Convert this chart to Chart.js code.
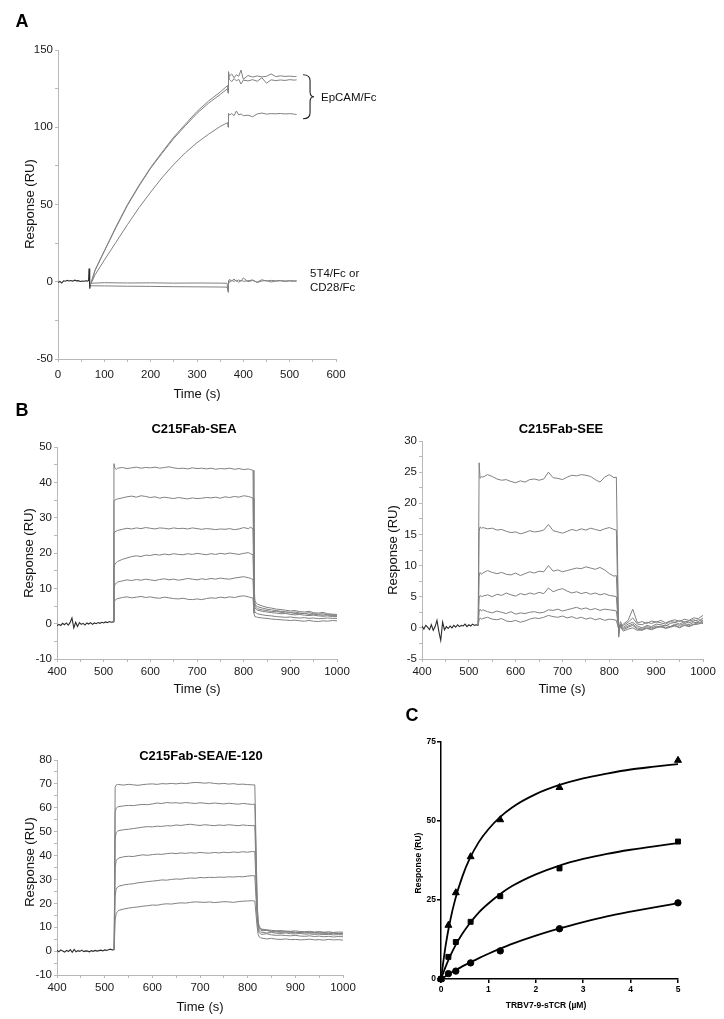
<!DOCTYPE html>
<html lang="en">
<head>
<meta charset="UTF-8">
<title>SPR sensorgrams and binding curves</title>
<script src="https://cdn.jsdelivr.net/npm/chart.js"></script>
<style>
  body { margin: 0; background: #fff; font-family: 'Liberation Sans', Arial, sans-serif; }
  #page { position: relative; width: 724px; height: 1019px; overflow: hidden; background: #fff; }
  canvas { position: absolute; }
  .t { position: absolute; white-space: nowrap; line-height: 1; color: #111; transform: translate(-50%, -50%); }
  .l { transform: translate(0, -50%); }
  .v { transform: translate(-50%, -50%) rotate(-90deg); }
  .letter { font-weight: bold; font-size: 18px; color: #000; }
  .title { font-weight: bold; font-size: 13px; color: #000; }
  .ax { font-size: 13px; }
  .axc { font-size: 8.5px; font-weight: bold; color: #000; }
  .note { font-size: 11.5px; }
</style>
</head>
<body>
<div id="page">
  <canvas id="chartA"></canvas>
  <canvas id="chartSEA"></canvas>
  <canvas id="chartSEE"></canvas>
  <canvas id="chartMix"></canvas>
  <canvas id="chartC"></canvas>

  <div class="t letter" style="left:22px;top:21px">A</div>
  <div class="t letter" style="left:22px;top:410px">B</div>
  <div class="t letter" style="left:412px;top:715px">C</div>

  <div class="t title" style="left:194px;top:428px">C215Fab-SEA</div>
  <div class="t title" style="left:561px;top:428px">C215Fab-SEE</div>
  <div class="t title" style="left:201px;top:755px">C215Fab-SEA/E-120</div>

  <div class="t v ax" style="left:29px;top:204px">Response (RU)</div>
  <div class="t v ax" style="left:28px;top:553px">Response (RU)</div>
  <div class="t v ax" style="left:392px;top:550px">Response (RU)</div>
  <div class="t v ax" style="left:29px;top:862px">Response (RU)</div>
  <div class="t v axc" style="left:418px;top:863px">Response (RU)</div>

  <div class="t ax" style="left:197px;top:393px">Time (s)</div>
  <div class="t ax" style="left:197px;top:688px">Time (s)</div>
  <div class="t ax" style="left:562px;top:688px">Time (s)</div>
  <div class="t ax" style="left:200px;top:1006px">Time (s)</div>
  <div class="t axc" style="left:546px;top:1005px">TRBV7-9-sTCR (µM)</div>

  <div class="t l note" style="left:321px;top:98px">EpCAM/Fc</div>
  <div class="t l note" style="left:310px;top:274px">5T4/Fc or</div>
  <div class="t l note" style="left:310px;top:288px">CD28/Fc</div>
</div>

<script>
  // ---- panel A : EpCAM/Fc vs control ----
  const baseA_t = [0, 4, 8, 12, 16, 20, 24, 28, 32, 36, 40, 44, 48, 52, 56, 60, 64, 66, 67, 68, 69, 70];
  const baseA_v = [-0.5, 0.2, -0.8, 0.6, 0.3, 0.9, 0.5, 0.8, 0.4, 1.0, 0.6, 0.7, 0.2, 0.5, 0.3, 0.6, 0.4, 0.8, 8.6, -1.0, -4.5, -2.0];

  const tEp = [70, 80, 100, 125, 150, 175, 200, 225, 250, 275, 300, 325, 350, 366,
               367, 368, 370, 375, 380, 385, 390, 395, 400, 410, 420, 430, 440, 450, 460, 470, 480, 490, 500, 510, 515];
  const ep1 = [-2, 7.5, 20, 35.5, 50, 62.5, 74, 84, 93.7, 102, 110.2, 117, 122.8, 127,
               123, 136, 133, 134.5, 132, 134, 133, 137, 131, 133.5, 132.5, 133.2, 132.6, 133, 134.5, 132.8, 133.3, 132.9, 133.1, 132.8, 133];
  const ep2 = [-2, 7.4, 19.8, 35, 49.5, 62, 73.5, 83.3, 92.8, 101, 109, 115.6, 121.2, 125,
               122, 134, 131, 129.5, 131.5, 130, 131, 128, 130.5, 130, 130.8, 129.8, 132, 128.5, 130.7, 130.2, 130.6, 130.3, 130.8, 130.5, 130.7];
  const ep3 = [-2, 4.5, 14, 25.5, 37, 48, 58, 67.5, 76, 83.5, 90, 95.5, 100.5, 103,
               100, 109, 108, 108.8, 107.5, 110.5, 108, 108.6, 107.5, 107.8, 106.8, 108.6, 109.2, 108.5, 108.8, 108.7, 108.9, 108.6, 108.8, 108.5, 108.2];

  const tCtl = [70, 100, 150, 200, 250, 300, 350, 365, 367, 368, 370, 375, 380, 385, 390, 395, 400, 410, 420, 430, 440, 450, 460, 470, 480, 490, 500, 510, 515];
  const ctl1 = [-1.0, -0.6, -0.8, -0.7, -0.9, -0.8, -0.9, -1.0, -6.8, -0.5, 1.5, 0.5, 1.8, 0.2, 1.2, 0.3, 2.5, 0.1, 0.8, -0.2, 1.3, 0.4, 0.9, 0.6, 0.8, 0.5, 0.7, 0.6, 0.7];
  const ctl2 = [-2.6, -2.7, -2.9, -3.0, -3.2, -3.3, -3.4, -3.5, -5.5, 0.8, -0.6, 0.9, 0.2, 1.1, -0.4, 0.9, 0.3, 0.6, 1.2, -0.5, 0.5, 0.8, -0.2, 0.4, 0.6, 0.2, 0.5, 0.3, 0.4];

  // ---- panel B : shared time grids ----
  const tBase = [400, 404, 408, 412, 416, 420, 424, 428, 432, 436, 440, 444, 448, 452, 456, 460,
                 464, 468, 472, 476, 480, 484, 488, 492, 496, 500, 504, 508, 512, 516, 520];
  const tB = [520, 522, 524, 527,
              530, 540, 550, 560, 570, 580, 590, 600, 610, 620, 630, 640, 650, 660, 670, 680,
              690, 700, 710, 720, 730, 740, 750, 760, 770, 780, 790, 800, 810,
              815, 820, 822, 824, 827,
              830, 840, 850, 860, 870, 880, 890, 900, 910, 920, 930, 940, 950, 960, 970, 980, 990, 1000];

  // C215Fab-SEA
  const baseSEA = [-0.6, -0.2, -0.5, 0.1, -0.3, 0.2, -0.4, 0.3, 1.6, -1.2, 0.4, -0.8, 0.3, -0.2, 0.1, -0.4,
                   0.2, -0.1, 0.3, -0.2, 0.2, 0.0, 0.3, 0.1, 0.4, 0.2, 0.5, 0.3, 0.6, 0.4, 0.5];
  const sea1 = [0.5, 45.3, 44.0, 43.7,
    44.0, 44.2, 43.9, 44.1, 44.3, 44.0, 44.2, 44.1, 44.3, 44.0, 44.2, 44.4, 44.1, 43.9, 44.0, 43.8,
    44.1, 43.9, 44.0, 43.8, 44.0, 43.7, 43.9, 43.8, 44.0, 43.7, 43.9, 43.6, 43.8,
    43.6, 43.4, 12.0, 6.5, 5.8,
    5.5, 5.0, 4.6, 4.4, 4.1, 4.0, 3.8, 3.6, 3.7, 3.4, 3.3, 3.5, 3.1, 3.0, 3.2, 2.8, 2.7, 2.6];
  const sea2 = [0.5, 34.5, 35.0, 35.2,
    35.3, 35.6, 35.9, 36.1, 35.8, 36.2, 36.0, 35.7, 35.9, 35.5, 35.8, 35.6, 35.4, 35.7, 35.5, 35.3,
    35.6, 35.4, 35.5, 35.7, 35.6, 35.8, 35.5, 35.9, 35.7, 36.0, 35.8, 36.2, 36.0,
    35.8, 35.5, 10.0, 5.8, 5.0,
    4.8, 4.4, 4.1, 3.9, 3.7, 3.5, 3.4, 3.2, 3.3, 3.0, 2.9, 3.1, 2.8, 2.7, 2.8, 2.5, 2.5, 2.4];
  const sea3 = [0.5, 25.5, 26.0, 26.2,
    26.4, 26.7, 27.0, 26.8, 27.1, 26.9, 27.2, 27.0, 26.8, 27.1, 27.0, 26.8, 27.1, 26.9, 27.0, 26.8,
    27.1, 26.9, 26.7, 26.9, 26.8, 26.6, 26.8, 26.7, 26.9, 26.6, 26.8, 27.2, 26.9,
    27.3, 26.8, 8.0, 5.0, 4.5,
    4.2, 3.9, 3.7, 3.4, 3.5, 3.2, 3.0, 3.1, 2.9, 2.8, 2.9, 2.6, 2.7, 2.5, 2.4, 2.5, 2.3, 2.2];
  const sea4 = [0.5, 15.5, 16.8, 17.3,
    17.6, 18.2, 18.6, 19.0, 19.2, 19.0, 19.4, 19.3, 19.6, 19.4, 19.7, 19.5, 19.8, 19.6, 19.5, 19.8,
    19.6, 19.9, 19.7, 19.5, 19.8, 19.6, 19.9, 19.7, 20.0, 19.8, 19.6, 19.9, 20.1,
    19.8, 19.5, 7.0, 4.5, 4.0,
    3.8, 3.5, 3.3, 3.1, 3.0, 2.8, 2.9, 2.6, 2.5, 2.6, 2.4, 2.3, 2.4, 2.2, 2.1, 2.2, 2.0, 2.0];
  const sea5 = [0.5, 10.0, 11.0, 11.5,
    11.8, 12.1, 12.4, 12.2, 12.5, 12.3, 12.6, 12.4, 12.2, 12.5, 12.7, 12.4, 12.6, 12.3, 12.5, 12.8,
    12.6, 12.4, 12.7, 12.5, 12.8, 12.6, 12.9, 12.7, 12.6, 12.9, 13.1, 13.3, 13.0,
    12.8, 12.5, 5.0, 3.3, 3.0,
    2.8, 2.5, 2.3, 2.2, 2.0, 1.9, 1.8, 1.9, 1.7, 1.6, 1.7, 1.5, 1.6, 1.4, 1.5, 1.6, 1.5, 1.5];
  const sea6 = [0.5, 6.0, 6.6, 6.9,
    7.1, 7.4, 7.6, 7.3, 7.5, 7.7, 7.4, 7.6, 7.3, 7.2, 7.5, 7.3, 7.1, 7.0, 7.2, 6.9,
    6.8, 7.0, 6.8, 7.1, 7.3, 7.2, 7.5, 7.3, 7.6, 7.4, 7.7, 7.9, 7.6,
    7.4, 7.2, 3.0, 2.0, 1.9,
    1.8, 1.6, 1.5, 1.3, 1.2, 1.1, 1.0, 0.9, 1.0, 0.8, 0.7, 0.9, 0.7, 0.6, 0.8, 0.7, 0.9, 0.8];

  // C215Fab-SEE
  const baseSEE = [0.3, -0.2, 0.4, 0.1, -0.3, 0.5, -0.4, 0.2, 1.2, -0.6, -2.0, 0.9, -0.3, 0.2, -0.1, 0.3,
                   0.0, 0.4, 0.1, 0.5, 0.2, 0.4, 0.3, 0.6, 0.2, 0.5, 0.3, 0.6, 0.4, 0.5, 0.4];
  const see1 = [0.4, 26.5, 24.0, 24.3,
    24.2, 24.6, 24.3, 23.9, 23.7, 23.8, 23.5, 23.3, 23.6, 23.4, 23.8, 23.9, 23.7, 23.9, 25.0, 24.1,
    24.0, 23.8, 24.2, 24.5, 24.4, 24.6, 24.5, 24.3, 23.8, 23.4, 24.2, 24.6, 24.1,
    24.2, -1.5, 0.5, 1.0, 0.4,
    0.6, 1.2, 3.0, 0.8, 1.0, 0.7, 1.1, 0.9, 1.2, 0.8, 1.1, 1.3, 1.0, 1.4, 1.2, 1.6, 1.5, 2.0];
  const see2 = [0.4, 15.5, 16.2, 16.0,
    16.1, 15.9, 16.0, 15.7, 15.8, 15.5, 15.3, 15.4, 15.1, 15.3, 15.6, 15.4, 15.5, 15.7, 16.6, 15.6,
    15.4, 15.2, 15.5, 15.8, 15.6, 15.9, 15.7, 16.0, 15.8, 15.6, 15.9, 16.1, 15.8,
    15.7, -1.2, 0.2, 0.6, 0.3,
    0.4, 0.9, 1.6, 0.6, 0.5, 0.9, 0.7, 1.0, 0.8, 0.6, 1.0, 0.9, 1.2, 0.9, 1.1, 1.3, 1.0, 1.6];
  const see3 = [0.4, 8.3, 8.9, 8.6,
    8.8, 9.2, 8.9, 8.7, 8.9, 8.6, 8.5, 8.8, 8.4, 8.7, 9.0, 8.8, 9.1, 9.0, 10.0, 9.1,
    9.3, 9.0, 9.2, 9.4, 9.6, 9.5, 9.8, 9.6, 9.4, 9.7, 9.3, 8.7, 8.3,
    8.4, -0.8, 0.0, 0.5, 0.2,
    0.1, 0.6, 0.9, 0.3, 0.0, 0.4, 0.2, 0.6, 0.5, 0.3, 0.7, 0.9, 0.6, 1.0, 0.8, 1.1, 1.3, 1.2];
  const see4 = [0.4, 4.8, 5.2, 5.0,
    5.1, 5.3, 5.0, 5.4, 5.2, 5.6, 5.3, 5.1, 5.5, 5.3, 5.6, 5.4, 5.7, 5.5, 6.4, 5.8,
    6.1, 6.3, 5.9, 5.6, 5.8, 5.5, 5.7, 5.4, 5.6, 5.3, 5.5, 5.2, 5.1,
    5.0, -0.5, 0.1, 0.4, 0.0,
    -0.1, 0.3, 0.6, 0.0, -0.2, 0.2, 0.0, 0.3, 0.1, 0.4, 0.2, 0.6, 0.4, 0.7, 0.5, 0.9, 0.8, 1.1];
  const see5 = [0.4, 2.6, 3.0, 2.7,
    2.9, 2.6, 2.4, 2.7, 2.5, 2.3, 2.6, 2.2, 2.4, 2.3, 2.5, 2.6, 2.4, 2.5, 2.9, 2.8,
    3.0, 2.7, 2.9, 3.1, 3.3, 3.0, 3.2, 2.9, 3.1, 2.8, 3.0, 2.9, 2.8,
    2.7, -0.3, 0.0, 0.3, -0.1,
    -0.3, 0.1, 0.4, -0.2, -0.4, 0.0, -0.2, 0.1, 0.3, 0.0, 0.2, 0.4, 0.1, 0.5, 0.3, 0.6, 0.8, 0.7];
  const see6 = [0.4, 1.3, 1.6, 1.4,
    1.5, 1.7, 1.4, 1.3, 1.5, 1.1, 1.0, 1.2, 0.9, 1.1, 1.4, 1.6, 1.5, 1.7, 2.0, 1.8,
    1.7, 1.9, 1.6, 1.8, 1.5, 1.7, 1.4, 1.6, 1.3, 1.5, 1.2, 1.4, 1.3,
    1.2, -0.2, -0.1, 0.1, -0.3,
    -0.5, -0.2, 0.0, -0.4, -0.3, -0.1, -0.3, 0.0, 0.2, -0.1, 0.1, 0.3, 0.0, 0.4, 0.2, 0.5, 0.6, 0.9];

  // C215Fab-SEA/E-120
  const baseMix = [0.4, -0.3, 0.5, 0.0, -0.4, 0.3, -0.2, 0.6, -0.5, 0.7, -0.3, 0.2, -0.1, 0.4, -0.2, 0.1,
                   0.0, -0.3, 0.2, -0.1, 0.3, 0.0, 0.2, 0.4, 0.1, 0.5, 0.3, 0.6, 0.8, 0.5, 0.6];
  const mix1 = [0.6, 68.5, 69.5, 69.8,
    69.7, 69.5, 69.8, 69.6, 69.4, 69.7, 69.9, 70.0, 69.8, 70.1, 70.0, 70.2, 70.0, 70.3, 70.1, 70.4,
    70.6, 70.5, 70.3, 70.5, 70.2, 70.0, 70.2, 69.9, 70.1, 69.8, 69.9, 69.7, 69.6,
    69.6, 20.0, 12.5, 10.5, 9.5,
    9.2, 8.9, 8.7, 8.5, 8.6, 8.4, 8.3, 8.5, 8.2, 8.1, 8.3, 8.0, 8.2, 7.9, 8.1, 7.8, 8.0, 7.9];
  const mix2 = [0.6, 58.0, 59.8, 60.3,
    60.5, 60.8, 61.0, 60.9, 61.2, 61.4, 61.3, 61.6, 62.0, 61.8, 62.2, 62.0, 62.1, 61.9, 62.2, 62.0,
    61.8, 62.1, 61.9, 61.7, 62.0, 61.8, 61.6, 61.9, 61.7, 61.5, 61.8, 61.6, 61.4,
    61.5, 19.0, 12.0, 10.0, 9.2,
    8.9, 8.6, 8.3, 8.4, 8.1, 8.0, 8.2, 7.9, 7.8, 8.0, 7.7, 7.8, 7.6, 7.8, 7.5, 7.7, 7.4, 7.5];
  const mix3 = [0.6, 47.0, 49.5, 50.2,
    50.5, 50.8, 51.0, 51.3, 51.6, 51.9, 52.1, 52.0, 52.3, 52.2, 52.5, 52.4, 52.8, 52.6, 52.9, 53.1,
    52.8, 52.6, 52.9, 52.7, 52.5, 52.8, 52.6, 52.9, 52.7, 52.5, 52.8, 52.6, 52.5,
    52.6, 17.0, 11.0, 9.5, 8.8,
    8.5, 8.8, 8.2, 8.0, 7.9, 8.1, 7.8, 7.7, 7.9, 7.6, 7.7, 7.5, 7.6, 7.4, 7.5, 7.3, 7.4, 7.2];
  const mix4 = [0.6, 35.0, 37.8, 38.6,
    39.0, 39.5, 39.7, 39.6, 40.0, 40.3, 40.1, 40.4, 40.6, 40.5, 40.8, 41.0, 40.8, 41.1, 40.9, 41.2,
    41.0, 41.3, 41.1, 41.0, 41.3, 41.1, 41.4, 41.2, 41.5, 41.3, 41.6, 41.4, 41.7,
    41.6, 15.0, 10.0, 8.5, 8.0,
    7.9, 7.6, 7.8, 7.5, 7.4, 7.6, 7.3, 7.2, 7.4, 7.1, 7.2, 7.0, 7.1, 6.9, 7.0, 6.8, 6.9, 6.8];
  const mix5 = [0.6, 23.0, 25.8, 26.8,
    27.2, 27.7, 28.0, 28.2, 28.6, 28.8, 29.1, 29.3, 29.5, 29.8, 29.7, 30.0, 30.2, 30.1, 30.4, 30.6,
    30.5, 30.8, 30.7, 30.9, 30.8, 31.0, 30.9, 31.1, 31.0, 31.2, 31.1, 31.4, 31.6,
    31.5, 13.0, 9.0, 7.8, 7.2,
    7.0, 7.3, 6.8, 6.6, 6.7, 6.5, 6.4, 6.6, 6.3, 6.2, 6.4, 6.1, 6.3, 6.0, 6.2, 5.9, 6.1, 6.0];
  const mix6 = [0.6, 13.0, 15.6, 16.6,
    17.1, 17.6, 18.0, 18.3, 18.5, 18.8, 19.0, 19.3, 19.2, 19.6, 19.8, 19.7, 20.0, 20.2, 20.1, 20.4,
    20.6, 20.5, 20.4, 20.6, 20.3, 20.5, 20.7, 20.6, 20.4, 20.7, 20.9, 21.0, 21.1,
    20.9, 10.0, 7.0, 6.0, 5.6,
    5.4, 5.1, 5.3, 5.0, 4.9, 5.1, 4.8, 4.9, 4.7, 4.8, 5.0, 4.7, 4.8, 4.6, 4.9, 4.7, 4.8, 4.6];

  // ---- panel C : equilibrium binding ----
  const conc = [0, 0.156, 0.3125, 0.625, 1.25, 2.5, 5];
  const respTri = [0, 17, 27.3, 38.7, 50.4, 60.6, 69.2];
  const respSq = [0, 7, 11.7, 18.1, 26.2, 35, 43.5];
  const respCi = [0, 1.7, 2.5, 5.1, 8.9, 15.9, 24.1];
  const fitX = [0, 0.1, 0.2, 0.3, 0.45, 0.6, 0.8, 1.0, 1.25, 1.5, 2, 2.5, 3, 3.5, 4, 4.5, 5];
  const fitTri = [0, 10.8, 18.9, 25.2, 32.4, 37.9, 43.4, 47.4, 51.3, 54.3, 58.5, 61.4, 63.5, 65.0, 66.3, 67.2, 68.0];
  const fitSq = [0, 4.0, 7.5, 10.5, 14.3, 17.5, 21.1, 23.9, 26.9, 29.4, 33.1, 35.9, 38.0, 39.6, 40.9, 42.0, 43.0];
  const fitCi = [0, 0.9, 1.9, 2.7, 4.0, 5.1, 6.6, 8.0, 9.6, 11.1, 13.7, 16.0, 18.0, 19.8, 21.3, 22.7, 24.0];

  // brace next to the EpCAM traces (time, response)
  const braceAt = 544, braceTop = 134, braceBottom = 105.5;

  Chart.defaults.font.family = "'Liberation Sans', Arial, sans-serif";
  Chart.defaults.color = '#1a1a1a';

  const GREY = '#808080', DARK = '#2b2b2b', AXIS = '#b8b8b8';

  function xy(xs, ys) { return xs.map((x, i) => ({ x: x, y: ys[i] })); }

  function trace(xs, ys, color, w) {
    return { data: xy(xs, ys), borderColor: color, borderWidth: w, pointRadius: 0,
             showLine: true, tension: 0, fill: false };
  }

  // size and place a canvas, return the layout padding giving the wanted plot area
  function place(id, box, area, yW, xH) {
    const c = document.getElementById(id);
    c.width = box.w; c.height = box.h;
    c.style.left = box.x + 'px'; c.style.top = box.y + 'px';
    return { left: area.l - box.x - yW, top: area.t - box.y,
             right: box.x + box.w - area.r, bottom: box.y + box.h - area.b - xH };
  }

  function sprAxis(min, max, step, major, isX, xPad) {
    return {
      type: 'linear', min: min, max: max,
      afterFit: s => { if (isX) s.height = 30; else s.width = 50; },
      ticks: {
        stepSize: step, autoSkip: false, maxRotation: 0,
        padding: isX ? xPad : 2, font: { size: 11.5 }, color: '#1a1a1a',
        callback: v => (Math.abs(v % major) < 1e-9 ? String(v) : '')
      },
      grid: { drawOnChartArea: false, tickLength: 3, color: AXIS, lineWidth: 1 },
      border: { color: AXIS, width: 1 }
    };
  }

  function sprChart(id, box, area, xr, yr, datasets, xPad, plugins) {
    const pad = place(id, box, area, 50, 30);
    return new Chart(document.getElementById(id), {
      type: 'scatter',
      data: { datasets: datasets },
      options: {
        responsive: false, animation: false, events: [],
        layout: { padding: pad },
        plugins: { legend: { display: false }, tooltip: { enabled: false } },
        scales: { x: sprAxis(xr[0], xr[1], xr[2], xr[3], true, xPad),
                  y: sprAxis(yr[0], yr[1], yr[2], yr[3], false, 0) }
      },
      plugins: plugins || []
    });
  }

  const bracePlugin = {
    id: 'brace',
    afterDatasetsDraw(chart) {
      const { ctx, scales: { x, y } } = chart;
      const bx = x.getPixelForValue(braceAt);
      const yt = y.getPixelForValue(braceTop), yb = y.getPixelForValue(braceBottom);
      const ym = (yt + yb) / 2;
      ctx.save();
      ctx.strokeStyle = '#222'; ctx.lineWidth = 1.1;
      ctx.beginPath();
      ctx.moveTo(bx - 7, yt);
      ctx.quadraticCurveTo(bx, yt, bx, yt + 6);
      ctx.lineTo(bx, ym - 5);
      ctx.quadraticCurveTo(bx, ym, bx + 4, ym);
      ctx.quadraticCurveTo(bx, ym, bx, ym + 5);
      ctx.lineTo(bx, yb - 6);
      ctx.quadraticCurveTo(bx, yb, bx - 7, yb);
      ctx.stroke();
      ctx.restore();
    }
  };

  // panel A
  sprChart('chartA', { x: 0, y: 30, w: 430, h: 390 }, { l: 58, t: 50, r: 336, b: 359 },
    [0, 600, 50, 100], [-50, 150, 25, 50],
    [trace(tEp, ep1, GREY, 1), trace(tEp, ep2, GREY, 1), trace(tEp, ep3, GREY, 1),
     trace(tCtl, ctl1, GREY, 1), trace(tCtl, ctl2, GREY, 1),
     trace(baseA_t, baseA_v, DARK, 1.1)],
    6, [bracePlugin]);

  // panel B
  sprChart('chartSEA', { x: 0, y: 430, w: 365, h: 270 }, { l: 57, t: 447, r: 337, b: 659 },
    [400, 1000, 50, 100], [-10, 50, 5, 10],
    [sea1, sea2, sea3, sea4, sea5, sea6].map(s => trace(tB, s, GREY, 1))
      .concat([trace(tBase, baseSEA, DARK, 1.1)]), 3);

  sprChart('chartSEE', { x: 362, y: 428, w: 362, h: 272 }, { l: 422, t: 441, r: 703, b: 659 },
    [400, 1000, 50, 100], [-5, 30, 2.5, 5],
    [see1, see2, see3, see4, see5, see6].map(s => trace(tB, s, GREY, 1))
      .concat([trace(tBase, baseSEE, DARK, 1.1)]), 3);

  sprChart('chartMix', { x: 0, y: 745, w: 370, h: 274 }, { l: 57, t: 760, r: 343, b: 975 },
    [400, 1000, 50, 100], [-10, 80, 5, 10],
    [mix1, mix2, mix3, mix4, mix5, mix6].map(s => trace(tB, s, GREY, 1))
      .concat([trace(tBase, baseMix, DARK, 1.1)]), 3);

  // panel C
  const padC = place('chartC', { x: 370, y: 722, w: 354, h: 297 }, { l: 441, t: 742, r: 678, b: 979 }, 30, 20);
  function fitLine(ys) {
    return { data: xy(fitX, ys), showLine: true, borderColor: '#000', borderWidth: 1.8,
             pointRadius: 0, cubicInterpolationMode: 'monotone', clip: false };
  }
  function marks(ys, style, r) {
    return { data: xy(conc, ys), showLine: false, pointStyle: style, pointRadius: r,
             backgroundColor: '#000', borderColor: '#000', borderWidth: 1, clip: false };
  }
  const axC = {
    grid: { drawOnChartArea: false, tickLength: 4, color: '#000', lineWidth: 1.5 },
    border: { color: '#000', width: 1.5 }
  };
  new Chart(document.getElementById('chartC'), {
    type: 'scatter',
    data: { datasets: [
      fitLine(fitTri), fitLine(fitSq), fitLine(fitCi),
      marks(respTri, 'triangle', 4), marks(respSq, 'rect', 3.5), marks(respCi, 'circle', 3.2)
    ] },
    options: {
      responsive: false, animation: false, events: [],
      layout: { padding: padC },
      plugins: { legend: { display: false }, tooltip: { enabled: false } },
      scales: {
        x: Object.assign({ type: 'linear', min: 0, max: 5, afterFit: s => { s.height = 20; },
          ticks: { stepSize: 1, padding: 2, font: { size: 8.5, weight: 'bold' }, color: '#000', maxRotation: 0 } }, axC),
        y: Object.assign({ type: 'linear', min: 0, max: 75, afterFit: s => { s.width = 30; },
          ticks: { stepSize: 25, padding: 1, font: { size: 8.5, weight: 'bold' }, color: '#000' } }, axC)
      }
    }
  });
</script>
</body>
</html>
